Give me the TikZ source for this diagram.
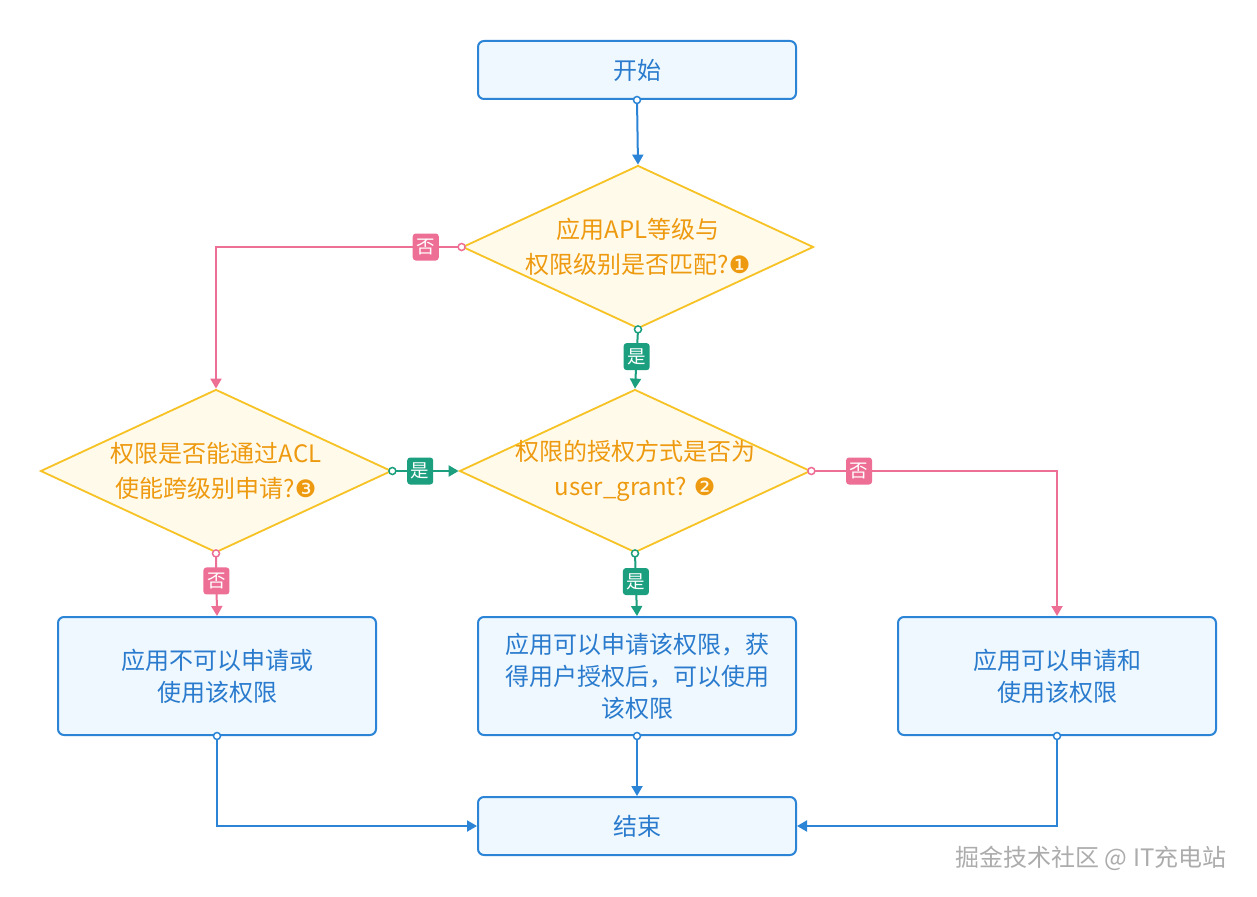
\documentclass[tikz,border=0pt]{standalone}
\usepackage{fontspec}
\setmainfont{Noto Sans CJK SC}
\newfontfamily\djv{DejaVu Sans}
\usetikzlibrary{shapes.geometric,arrows.meta}
\definecolor{bline}{HTML}{2B84D6}
\definecolor{bfill}{HTML}{EEF8FE}
\definecolor{btext}{HTML}{2A7BCE}
\definecolor{yline}{HTML}{F6C224}
\definecolor{yfill}{HTML}{FFFAEA}
\definecolor{ytext}{HTML}{EE9A10}
\definecolor{pinkc}{HTML}{EE6F96}
\definecolor{greenc}{HTML}{1B9F7F}
\newcommand{\circnum}[1]{{\djv\fontsize{24}{24}\selectfont #1}}
\tikzset{
  proc/.style={draw=bline, line width=2pt, fill=bfill, rounded corners=6pt,
    minimum width=318pt, text=btext, font=\fontsize{24}{32}\selectfont,
    align=center, inner sep=0pt},
  dec/.style={diamond, draw=yline, line width=1.8pt, fill=yfill, inner sep=0pt,
    minimum width=351pt, minimum height=163pt},
  dectext/.style={text=ytext, font=\fontsize{24}{35}\selectfont, align=center},
  conn/.style={line width=2pt, -{Triangle[length=10pt,width=11pt]}},
  tag/.style={rounded corners=3pt, minimum width=26pt, minimum height=27pt,
    inner sep=0pt, text=white, font=\fontsize{18.5}{18.5}\selectfont},
  dot/.style={line width=1.5pt, fill=white},
}
\begin{document}
\begin{tikzpicture}[x=1pt,y=-1pt]
\useasboundingbox[fill=white] (0,0) rectangle (1257,896);

\node[proc, minimum height=58pt] (start) at (637,70) {开始};
\node[dec, label={[dectext]center:{应用APL等级与\\权限级别是否匹配?\circnum{❶}}}] (d1) at (638,247) {};
\node[dec, label={[dectext]center:{权限是否能通过ACL\\使能跨级别申请?\circnum{❸}}}] (d3) at (216,471) {};
\node[dec, label={[dectext]center:{权限的授权方式是否为\\user\_grant? \circnum{❷}}}] (d2) at (635,471) {};
\node[proc, minimum height=118pt] (lbox) at (217,676) {应用不可以申请或\\使用该权限};
\node[proc, minimum height=118pt] (cbox) at (637,676) {应用可以申请该权限，获\\得用户授权后，可以使用\\该权限};
\node[proc, minimum height=118pt] (rbox) at (1057,676) {应用可以申请和\\使用该权限};
\node[proc, minimum height=58pt] (end) at (637,826) {结束};

\draw[conn, bline] (start.south) -- (d1.north);
\draw[conn, pinkc] (d1.west) -| node[tag, fill=pinkc, pos=0.073] {否} (d3.north);
\draw[conn, greenc] (d1.south) -- node[tag, fill=greenc, pos=0.46] {是} (d2.north);
\draw[conn, greenc] (d3.east) -- node[tag, fill=greenc, pos=0.42] {是} (d2.west);
\draw[conn, pinkc] (d2.east) -| node[tag, fill=pinkc, pos=0.097] {否} (rbox.north);
\draw[conn, greenc] (d2.south) -- node[tag, fill=greenc, pos=0.45] {是} (cbox.north);
\draw[conn, pinkc] (d3.south) -- node[tag, fill=pinkc, pos=0.44] {否} (lbox.north);
\draw[conn, bline] (lbox.south) |- (end.west);
\draw[conn, bline] (cbox.south) -- (end.north);
\draw[conn, bline] (rbox.south) |- (end.east);

\draw[dot, draw=bline] (start.south) circle (3.5pt);
\draw[dot, draw=pinkc] (d1.west) circle (3.5pt);
\draw[dot, draw=greenc] (d1.south) circle (3.5pt);
\draw[dot, draw=greenc] (d3.east) circle (3.5pt);
\draw[dot, draw=pinkc] (d2.east) circle (3.5pt);
\draw[dot, draw=greenc] (d2.south) circle (3.5pt);
\draw[dot, draw=pinkc] (d3.south) circle (3.5pt);
\draw[dot, draw=bline] (lbox.south) circle (3.5pt);
\draw[dot, draw=bline] (cbox.south) circle (3.5pt);
\draw[dot, draw=bline] (rbox.south) circle (3.5pt);

\node[font=\fontsize{24}{24}\selectfont, text=gray!65] (wm) at (1091,858) {掘金技术社区 @ IT充电站};
\end{tikzpicture}
\end{document}
